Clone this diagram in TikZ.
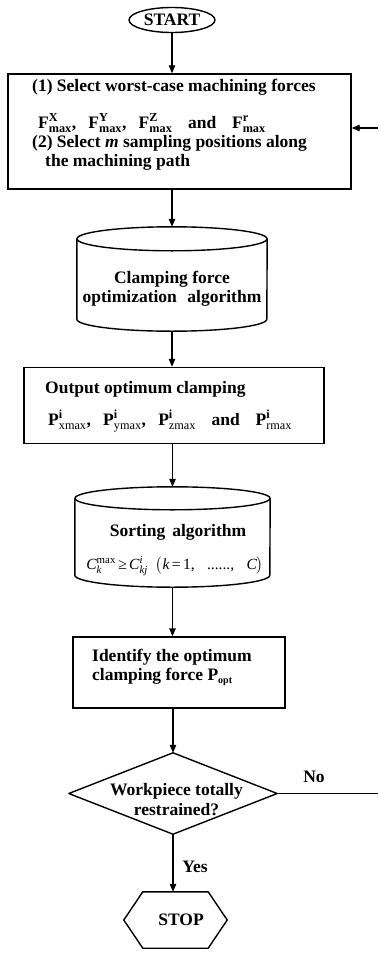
\documentclass[tikz,border=0pt]{standalone}
\usepackage{amsmath}
\usepackage{fontspec}
\setmainfont{Liberation Serif}
\usetikzlibrary{arrows.meta,shapes.geometric}

% force and clamping symbols with upper and lower indices
\newcommand\Fsym[1]{$\text{F}^{\text{#1}}_{\text{max}}$}
\newcommand\Psym[1]{$\text{P}^{\text{i}}_{\text{\mdseries #1}}$}
\newcommand\itx[1]{\text{\mdseries\itshape #1}}

\begin{document}
\begin{tikzpicture}[x=1pt,y=-1pt,
  frame/.style={draw, line width=1.4pt, rectangle, inner sep=0pt},
  ghost/.style={draw=none, rectangle, inner sep=0pt},
  outline/.style={line width=1.4pt, line join=round},
  arr/.style={line width=1.1pt, -{Triangle[length=8pt,width=6.5pt]}},
  link/.style={line width=1.1pt},
  txt/.style={font=\fontsize{17.5}{19.5}\selectfont\bfseries, inner sep=0pt},
  mtxt/.style={font=\fontsize{15.5}{18}\selectfont, inner sep=0pt}]
\useasboundingbox (0,0) rectangle (378,961);

% ---- shapes ----
\node[draw, ellipse, line width=1.4pt, minimum width=86pt, minimum height=25pt, inner sep=0pt,
      font=\fontsize{17.5}{19}\selectfont\bfseries] (start) at (172,20) {START};

\node[frame, minimum width=343pt, minimum height=115pt] (sel) at (179.5,131.5) {};
\node[ghost, minimum width=190pt, minimum height=104pt] (cyl1) at (172,279) {};
\node[frame, minimum width=300pt, minimum height=76pt] (outp) at (174,405.5) {};
\node[ghost, minimum width=195pt, minimum height=100pt] (cyl2) at (172.5,537) {};
\node[frame, minimum width=212pt, minimum height=71pt] (ident) at (179,672.5) {};
\node[ghost, minimum width=208pt, minimum height=81pt] (dia) at (173,793.5) {};
\node[ghost, minimum width=103pt, minimum height=56pt] (hex) at (175.5,920) {};

% cylinder: clamping force optimization
\draw[outline] ([yshift=-12pt]cyl1.north) ellipse[x radius=95pt, y radius=12pt];
\draw[outline] ([yshift=-12pt]cyl1.north west) -- ([yshift=12pt]cyl1.south west)
   arc[start angle=180, end angle=360, x radius=95pt, y radius=12pt]
   -- ([yshift=-12pt]cyl1.north east);
% cylinder: sorting
\draw[outline] ([yshift=-11.5pt]cyl2.north) ellipse[x radius=97.5pt, y radius=11.5pt];
\draw[outline] ([yshift=-11.5pt]cyl2.north west) -- ([yshift=12pt]cyl2.south west)
   arc[start angle=180, end angle=360, x radius=97.5pt, y radius=12pt]
   -- ([yshift=-11.5pt]cyl2.north east);
% decision diamond
\draw[outline] (dia.north) -- (dia.east) -- (dia.south) -- (dia.west) -- cycle;
% stop hexagon
\draw[outline] (hex.west) -- ([xshift=19pt]hex.north west) -- ([xshift=-19pt]hex.north east)
   -- (hex.east) -- ([xshift=-19pt]hex.south east) -- ([xshift=19pt]hex.south west) -- cycle;

% ---- texts ----
\node[txt, anchor=west] (t1a) at (32,87) {(1) Select worst-case machining forces};
\node[txt, anchor=west] (t1b) at (38,123) {\Fsym{X},\hspace{0.7em}\Fsym{Y},\hspace{0.7em}\Fsym{Z}\hspace{0.9em}and\hspace{0.9em}\Fsym{r}};
\node[txt, anchor=west] (t1c) at (32,143) {(2) Select \textit{m} sampling positions along};
\node[txt, anchor=west] (t1d) at (45,162) {the machining path};

\node[txt, align=center] (t2) at (172,289) {Clamping force\\optimization\hspace{0.6em}algorithm};

\node[txt, anchor=west] (t3a) at (45,389) {Output optimum clamping};
\node[txt, anchor=west] (t3b) at (48,421) {\Psym{xmax},\hspace{0.7em}\Psym{ymax},\hspace{0.7em}\Psym{zmax}\hspace{0.9em}and\hspace{0.9em}\Psym{rmax}};

\node[txt] (t4a) at (178,532) {Sorting\hspace{0.4em}algorithm};
\node[mtxt] (t4b) at (175,566) {$\itx{C}^{\text{\mdseries max}}_{\itx{k}}\,\text{\mdseries ≥}\,\itx{C}^{\itx{i}}_{\itx{kj}}\;\;\bigl(\itx{k}\,\text{\mdseries =\,1,\hspace{0.8em}......,\hspace{0.8em}}\itx{C}\bigr)$};

\node[txt, anchor=west, align=left] (t5) at (92,667) {Identify the optimum\\clamping force P\textsubscript{\fontsize{10}{10}\selectfont opt}};

\node[txt, align=center] (t6) at (176.5,799.5) {Workpiece totally\\restrained?};
\node[txt] (t7) at (181,920) {STOP};

\node[txt] (yes) at (195,867) {Yes};
\node[txt] (no) at (314,777) {No};

% ---- connectors ----
\coordinate (rin) at (378,128);
\coordinate (rout) at (378,793.5);

\draw[arr] (start.south) -- (start.south |- sel.north);
\draw[arr] (cyl1.north |- sel.south) -- (cyl1.north);
\draw[arr] (cyl1.south) -- (cyl1.south |- outp.north);
\draw[arr] (cyl2.north |- outp.south) -- (cyl2.north);
\draw[arr] (cyl2.south) -- (cyl2.south |- ident.north);
\draw[arr] (dia.north |- ident.south) -- (dia.north);
\draw[arr] (dia.south) -- (dia.south |- hex.north);
\draw[link] (dia.east) -- (rout);
\draw[arr] (rin) -- (rin -| sel.east);
\end{tikzpicture}
\end{document}
